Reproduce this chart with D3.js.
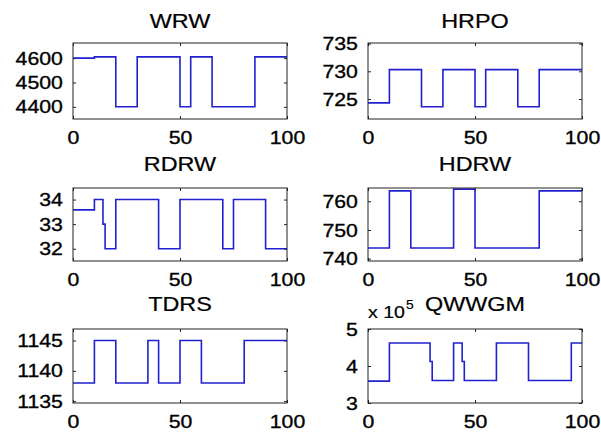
<!DOCTYPE html>
<html>
<head>
<meta charset="utf-8">
<script src="https://cdn.jsdelivr.net/npm/d3@7"></script>
<style>
  body { margin: 0; background: #fff; }
  text { font-family: "Liberation Sans", Arial, sans-serif; fill: #000; stroke: #000; stroke-width: 0.35px; }
</style>
</head>
<body>
<div id="chart"></div>
<script>
// step data: x = where a level starts, y = the level
var wrwX = [0, 10, 20, 30, 50, 55, 65, 85, 100];
var wrwY = [4600, 4605, 4400, 4605, 4400, 4605, 4400, 4605, 4605];

var hrpoX = [0, 10, 25, 35, 50, 55, 70, 80, 100];
var hrpoY = [724.3, 730.3, 723.6, 730.3, 723.6, 730.3, 723.6, 730.3, 730.3];

var rdrwX = [0, 10, 14, 15, 20, 40, 50, 70, 75, 90, 100];
var rdrwY = [33.58, 34, 33, 32, 34, 32, 34, 32, 34, 32, 32];

var hdrwX = [0, 10, 20, 40, 50, 80, 100];
var hdrwY = [743.7, 763.6, 743.7, 764.2, 743.7, 763.6, 763.6];

var tdrsX = [0, 10, 20, 35, 40, 50, 60, 80, 100];
var tdrsY = [1138, 1145, 1138, 1145, 1138, 1145, 1138, 1145, 1145];

var qwwgmX = [0, 10, 29, 30, 40, 44, 45, 60, 75, 95, 100];
var qwwgmY = [359000, 462000, 412000, 361000, 462000, 412000, 361000, 462000, 361000, 462000, 462000];

var titles = ["WRW", "HRPO", "RDRW", "HDRW", "TDRS", "QWWGM"];
var yTicks = [[4400, 4500, 4600], [725, 730, 735], [32, 33, 34], [740, 750, 760], [1135, 1140, 1145], [300000, 400000, 500000]];
var yDomains = [[4350, 4662], [721.4, 735.1], [31.5, 34.47], [739.2, 764.6], [1134.7, 1146.9], [300000, 500000]];
var xTicks = [0, 50, 100];

var W = 601, H = 432;
var colLeft = [73, 368], boxW = 214;
var rowTop = [43, 188, 329], rowBot = [119, 261, 403];
var titleBase = [28, 171, 311];
var sx = 1.12; // text in the picture is a bit stretched sideways

var series = [[wrwX, wrwY], [hrpoX, hrpoY], [rdrwX, rdrwY], [hdrwX, hdrwY], [tdrsX, tdrsY], [qwwgmX, qwwgmY]];

var svg = d3.select("#chart").append("svg")
    .attr("width", W)
    .attr("height", H);

svg.append("rect").attr("width", W).attr("height", H).attr("fill", "#fff");

series.forEach(function(s, i) {
  var col = i % 2, row = Math.floor(i / 2);
  var left = colLeft[col], top = rowTop[row], h = rowBot[row] - rowTop[row];

  var x = d3.scaleLinear().domain([0, 100]).range([0, boxW]);
  var y = d3.scaleLinear().domain(yDomains[i]).range([h, 0]);

  var g = svg.append("g").attr("transform", "translate(" + left + "," + top + ")");

  g.append("clipPath").attr("id", "clip" + i)
    .append("rect").attr("width", boxW).attr("height", h);

  var fmt = i == 5 ? function(d) { return d / 100000; } : d3.format("d");

  var yAxis = d3.axisLeft(y).tickValues(yTicks[i]).tickSizeInner(-3).tickSizeOuter(0).tickPadding(9).tickFormat(fmt);
  var xAxis = d3.axisBottom(x).tickValues(xTicks).tickSizeInner(-3).tickSizeOuter(0).tickPadding(12);

  var ga = g.append("g").attr("transform", "translate(0," + h + ")").call(xAxis);
  var gl = g.append("g").call(yAxis);
  var gt = g.append("g").call(d3.axisTop(x).tickValues(xTicks).tickSizeInner(-3).tickSizeOuter(0).tickFormat(""));
  var gr = g.append("g").attr("transform", "translate(" + boxW + ",0)")
    .call(d3.axisRight(y).tickValues(yTicks[i]).tickSizeInner(-3).tickSizeOuter(0).tickFormat(""));

  [ga, gl, gt, gr].forEach(function(a) {
    a.select(".domain").remove();
    a.selectAll("line").attr("stroke", "#222");
    a.selectAll("text")
      .style("font-size", "19px")
      .attr("fill", "#000")
      .attr("transform", "scale(" + sx + ",1)");
  });

  g.append("path")
    .datum(d3.zip(s[0], s[1]))
    .attr("clip-path", "url(#clip" + i + ")")
    .attr("fill", "none")
    .attr("stroke", "#2020d0")
    .attr("stroke-width", 1.6)
    .attr("d", d3.line().curve(d3.curveStepAfter)
      .x(function(d) { return x(d[0]); })
      .y(function(d) { return y(d[1]); }));

  g.append("rect")
    .attr("width", boxW).attr("height", h)
    .attr("fill", "none").attr("stroke", "#222").attr("stroke-width", 1);

  svg.append("text")
    .attr("transform", "translate(" + (left + boxW / 2) + "," + titleBase[row] + ") scale(1.2,1)")
    .attr("text-anchor", "middle")
    .style("font-size", "19.5px")
    .style("stroke-width", "0.2px")
    .text(titles[i]);

  if (i == 5) {
    var ex = svg.append("text")
      .attr("transform", "translate(" + left + ",318) scale(1.15,1)")
      .style("font-size", "17px")
      .style("stroke-width", "0.2px");
    ex.append("tspan").text("x 10");
    ex.append("tspan").attr("dx", 1).attr("dy", -9).style("font-size", "12px").text("5");
  }
});
</script>
</body>
</html>
